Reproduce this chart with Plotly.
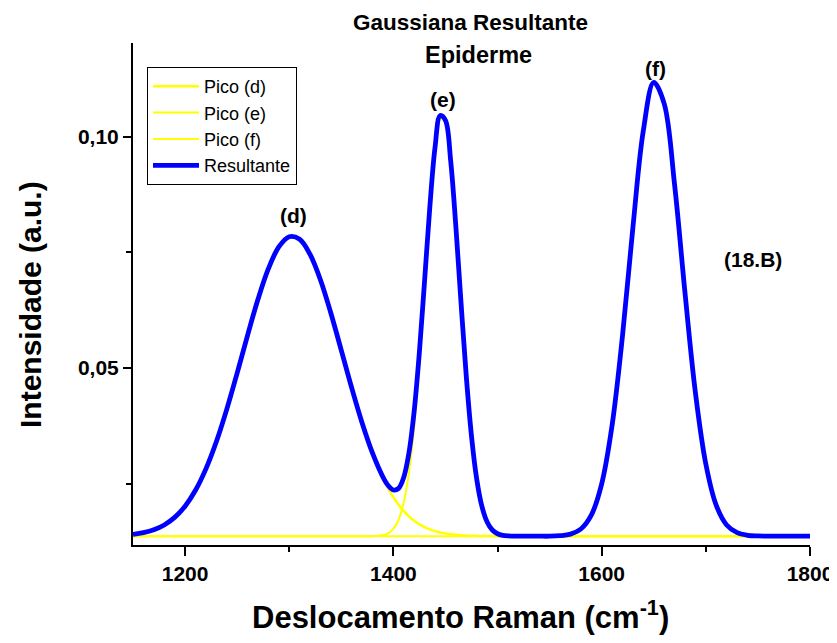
import plotly.graph_objects as go

# Raman shift grid (cm^-1)
raman_shift = [1150, 1160, 1170, 1180, 1190, 1200, 1210, 1220, 1230, 1240,
               1250, 1260, 1270, 1280, 1290, 1300, 1310, 1320, 1330, 1340,
               1350, 1360, 1370, 1380, 1390, 1395, 1400, 1405, 1410, 1415,
               1420, 1425, 1430, 1435, 1440, 1445, 1450, 1455, 1460, 1465,
               1470, 1475, 1480, 1485, 1490, 1495, 1500, 1505, 1510, 1520,
               1530, 1540, 1550, 1560, 1570, 1580, 1590, 1600, 1610, 1620,
               1630, 1640, 1650, 1660, 1670, 1680, 1690, 1700, 1710, 1720,
               1730, 1740, 1750, 1760, 1770, 1780, 1790, 1800]

pico_d = [0.01410, 0.01447, 0.01509, 0.01613, 0.01776, 0.02018, 0.02361, 0.02824, 0.03409, 0.04108,
          0.04893, 0.05708, 0.06486, 0.07147, 0.07617, 0.07837, 0.07781, 0.07456, 0.06902, 0.06185,
          0.05382, 0.04572, 0.03816, 0.03160, 0.02624, 0.02402, 0.02211, 0.02048, 0.01910, 0.01796,
          0.01703, 0.01626, 0.01566, 0.01518, 0.01480, 0.01452, 0.01430, 0.01413, 0.01401, 0.01392,
          0.01385, 0.01381, 0.01377, 0.01375, 0.01373, 0.01372, 0.01371, 0.01370, 0.01370, 0.01370,
          0.01370, 0.01370, 0.01370, 0.01370, 0.01370, 0.01370, 0.01370, 0.01370, 0.01370, 0.01370,
          0.01370, 0.01370, 0.01370, 0.01370, 0.01370, 0.01370, 0.01370, 0.01370, 0.01370, 0.01370,
          0.01370, 0.01370, 0.01370, 0.01370, 0.01370, 0.01370, 0.01370, 0.01370]

pico_e = [0.01370, 0.01370, 0.01370, 0.01370, 0.01370, 0.01370, 0.01370, 0.01370, 0.01370, 0.01370,
          0.01370, 0.01370, 0.01370, 0.01370, 0.01370, 0.01370, 0.01370, 0.01370, 0.01370, 0.01370,
          0.01370, 0.01370, 0.01370, 0.01372, 0.01393, 0.01433, 0.01527, 0.01725, 0.02104, 0.02753,
          0.03747, 0.05099, 0.06705, 0.08332, 0.09659, 0.10374, 0.10291, 0.09434, 0.08019, 0.06373,
          0.04803, 0.03519, 0.02597, 0.02009, 0.01674, 0.01502, 0.01422, 0.01389, 0.01376, 0.01370,
          0.01370, 0.01370, 0.01370, 0.01370, 0.01370, 0.01370, 0.01370, 0.01370, 0.01370, 0.01370,
          0.01370, 0.01370, 0.01370, 0.01370, 0.01370, 0.01370, 0.01370, 0.01370, 0.01370, 0.01370,
          0.01370, 0.01370, 0.01370, 0.01370, 0.01370, 0.01370, 0.01370, 0.01370]

pico_f = [0.01370, 0.01370, 0.01370, 0.01370, 0.01370, 0.01370, 0.01370, 0.01370, 0.01370, 0.01370,
          0.01370, 0.01370, 0.01370, 0.01370, 0.01370, 0.01370, 0.01370, 0.01370, 0.01370, 0.01370,
          0.01370, 0.01370, 0.01370, 0.01370, 0.01370, 0.01370, 0.01370, 0.01370, 0.01370, 0.01370,
          0.01370, 0.01370, 0.01370, 0.01370, 0.01370, 0.01370, 0.01370, 0.01370, 0.01370, 0.01370,
          0.01370, 0.01370, 0.01370, 0.01370, 0.01370, 0.01370, 0.01370, 0.01370, 0.01370, 0.01370,
          0.01370, 0.01370, 0.01370, 0.01381, 0.01415, 0.01525, 0.01824, 0.02501, 0.03768, 0.05703,
          0.08045, 0.10131, 0.11169, 0.10710, 0.08956, 0.06620, 0.04467, 0.02926, 0.02036, 0.01613,
          0.01446, 0.01390, 0.01375, 0.01370, 0.01370, 0.01370, 0.01370, 0.01370]

resultante = [0.01410, 0.01447, 0.01509, 0.01613, 0.01776, 0.02018, 0.02361, 0.02824, 0.03409, 0.04108,
              0.04893, 0.05708, 0.06486, 0.07147, 0.07617, 0.07837, 0.07781, 0.07456, 0.06902, 0.06185,
              0.05382, 0.04572, 0.03816, 0.03162, 0.02647, 0.02465, 0.02368, 0.02403, 0.02644, 0.03179,
              0.04080, 0.05355, 0.06901, 0.08480, 0.09769, 0.10456, 0.10351, 0.09477, 0.08050, 0.06395,
              0.04818, 0.03530, 0.02604, 0.02014, 0.01677, 0.01504, 0.01423, 0.01389, 0.01376, 0.01370,
              0.01370, 0.01370, 0.01370, 0.01381, 0.01415, 0.01525, 0.01824, 0.02501, 0.03768, 0.05703,
              0.08045, 0.10131, 0.11169, 0.10710, 0.08956, 0.06620, 0.04467, 0.02926, 0.02036, 0.01613,
              0.01446, 0.01390, 0.01375, 0.01370, 0.01370, 0.01370, 0.01370, 0.01370]

peak_labels = ["(d)", "(e)", "(f)"]
peak_label_x = [1304, 1448, 1652]
peak_label_y = [0.0830, 0.1081, 0.1146]

x_ticks = [1200, 1400, 1600, 1800]
x_tick_labels = ["1200", "1400", "1600", "1800"]
y_ticks = [0.05, 0.10]
y_tick_labels = ["0,05", "0,10"]

FONT = "Liberation Sans, Arial, sans-serif"

# plot area in page pixels (page body adds an 8 px offset)
L, T, PW, PH = 125, 35, 677, 502

fig = go.Figure()
fig.add_trace(go.Scatter(x=raman_shift, y=pico_d, mode="lines", name="Pico (d)",
                         line=dict(color="#FFFF00", width=2.5, shape="spline")))
fig.add_trace(go.Scatter(x=raman_shift, y=pico_e, mode="lines", name="Pico (e)",
                         line=dict(color="#FFFF00", width=2, shape="spline")))
fig.add_trace(go.Scatter(x=raman_shift, y=pico_f, mode="lines", name="Pico (f)",
                         line=dict(color="#FFFF00", width=2, shape="spline")))
fig.add_trace(go.Scatter(x=raman_shift, y=resultante, mode="lines", name="Resultante",
                         line=dict(color="#0000FF", width=4.8, shape="spline")))

annotations = []
for t, ax_, ay_ in zip(peak_labels, peak_label_x, peak_label_y):
    annotations.append(dict(x=ax_, y=ay_, xref="x", yref="y", text="<b>%s</b>" % t,
                            xanchor="center", yanchor="middle",
                            showarrow=False, font=dict(family=FONT, size=21, color="black")))
annotations.append(dict(x=1745, y=0.0735, xref="x", yref="y", text="<b>(18.B)</b>",
                        xanchor="center", yanchor="middle",
                        showarrow=False, font=dict(family=FONT, size=21, color="black")))
# title (two lines)
annotations.append(dict(x=(470 - 133) / PW, y=1.0, xref="paper", yref="paper", yshift=21,
                        xanchor="center", yanchor="middle",
                        text="<b>Gaussiana Resultante</b>", showarrow=False,
                        font=dict(family=FONT, size=22.5, color="black")))
annotations.append(dict(x=(478 - 133) / PW, y=1.0, xref="paper", yref="paper", yshift=-12,
                        xanchor="center", yanchor="middle",
                        text="<b>Epiderme</b>", showarrow=False,
                        font=dict(family=FONT, size=23.5, color="black")))
# axis titles
annotations.append(dict(x=(460 - 133) / PW, y=0, xref="paper", yref="paper", yshift=-70,
                        xanchor="center", yanchor="middle",
                        text="<b>Deslocamento Raman (cm<sup>-1</sup>)</b>", showarrow=False,
                        font=dict(family=FONT, size=31, color="black")))
annotations.append(dict(x=0, y=(545 - 305) / PH, xref="paper", yref="paper", xshift=-103,
                        xanchor="center", yanchor="middle",
                        text="<b>Intensidade (a.u.)</b>", showarrow=False, textangle=-90,
                        font=dict(family=FONT, size=30, color="black")))

fig.update_layout(
    width=837, height=643,
    margin=dict(l=L, r=837 - L - PW, t=T, b=643 - T - PH, autoexpand=False),
    paper_bgcolor="white", plot_bgcolor="white",
    separators=",.",
    showlegend=True,
    legend=dict(x=(147 - 133) / PW, y=(545 - 67) / PH, xanchor="left", yanchor="top",
                bgcolor="white", bordercolor="black", borderwidth=1,
                font=dict(family=FONT, size=18, color="black"),
                tracegroupgap=0, itemwidth=46),
    annotations=annotations,
    font=dict(family=FONT, color="black"),
)

fig.update_xaxes(
    range=[1150, 1800], tickvals=x_ticks, ticktext=["<b>%s</b>" % s for s in x_tick_labels],
    automargin=False,
    showgrid=False, zeroline=False, showline=True, linecolor="black", linewidth=2,
    ticks="outside", ticklen=9, tickwidth=2, tickcolor="black",
    tickfont=dict(family=FONT, size=21, color="black"),
    minor=dict(tickvals=[1300, 1500, 1700], ticks="outside", ticklen=5, tickwidth=2, tickcolor="black"),
)
fig.update_yaxes(
    range=[0.0118, 0.1202], tickvals=y_ticks, ticktext=["<b>%s</b>" % s for s in y_tick_labels],
    automargin=False,
    showgrid=False, zeroline=False, showline=True, linecolor="black", linewidth=2,
    ticks="outside", ticklen=8, tickwidth=2, tickcolor="black",
    tickfont=dict(family=FONT, size=21, color="black"),
    minor=dict(tickvals=[0.025, 0.075], ticks="outside", ticklen=5, tickwidth=2, tickcolor="black"),
)

fig.write_html("out.html")
